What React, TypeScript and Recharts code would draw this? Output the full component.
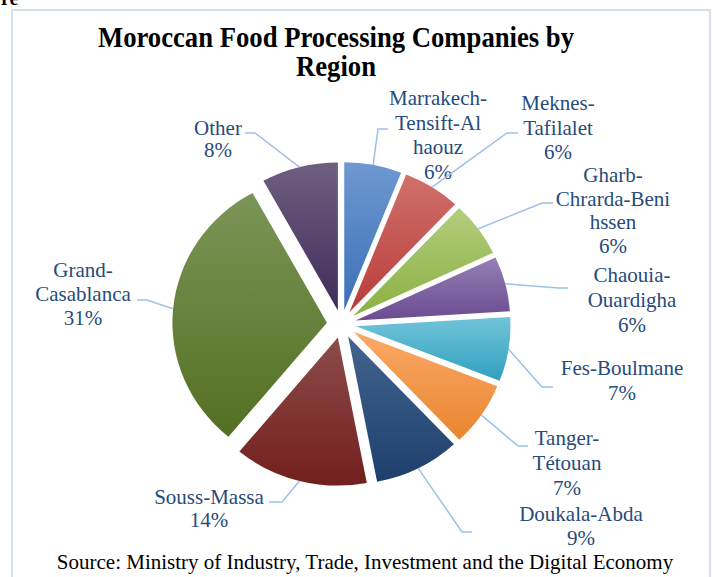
import React from 'react'
import { PieChart, Pie, Cell, Sector } from 'recharts'

// shares of food processing companies by region (%)
const REGIONS = [
  'Marrakech-Tensift-Al haouz',
  'Meknes-Tafilalet',
  'Gharb-Chrarda-Beni hssen',
  'Chaouia-Ouardigha',
  'Fes-Boulmane',
  'Tanger-Tétouan',
  'Doukala-Abda',
  'Souss-Massa',
  'Grand-Casablanca',
  'Other',
]
const SHARES = [6, 6, 6, 6, 7, 7, 9, 14, 31, 8]

// how Excel wrapped each label
const LABEL_LINES = [
  ['Marrakech-', 'Tensift-Al', 'haouz'],
  ['Meknes-', 'Tafilalet'],
  ['Gharb-', 'Chrarda-Beni', 'hssen'],
  ['Chaouia-', 'Ouardigha'],
  ['Fes-Boulmane'],
  ['Tanger-', 'Tétouan'],
  ['Doukala-Abda'],
  ['Souss-Massa'],
  ['Grand-', 'Casablanca'],
  ['Other'],
]

// gradient stops, top -> bottom
const TOP_COLORS = ['#6f98d0', '#d0706c', '#b3cd7f', '#9580b5', '#72c4d9', '#fca967', '#42648f', '#8c4c4a', '#7b9558', '#6e5f80']
const BOTTOM_COLORS = ['#3b70b7', '#b93c38', '#8bb041', '#6a4b91', '#30a0bf', '#e9852f', '#1e3f6b', '#731f1d', '#536f21', '#3f2c5a']

// label layout: [text center x, first baseline y, line gap, elbow x, elbow y, end x]
const LABEL_POS = [
  [438, 105, 24.5, 378, 129, 388],
  [558, 110, 24.5, 507, 133, 518],
  [613, 182, 23.5, 542, 203, 553],
  [632, 282, 25, 558, 288, 568],
  [622, 375, 25, 542, 387, 553],
  [567, 445, 25, 518, 446, 528],
  [581, 521, 24, 462, 532, 472],
  [209, 504, 23, 282, 502, 269],
  [83, 277, 24, 147, 300, 137],
  [218, 135, 22, 255, 133, 245],
]

const data = REGIONS.map((name, i) => ({ name, value: SHARES[i] }))

const EXPLODE = 14
const X_STRETCH = 1.044
const RAD = Math.PI / 180
const SERIF = '"Liberation Serif", "Times New Roman", serif'
const LABEL_COLOR = '#274b7c'
const LEADER_COLOR = '#9dc0e8'

function sliceIndex(props: any) {
  if (typeof props.index === 'number') return props.index
  const name = props.name ?? props.payload?.name
  return REGIONS.indexOf(name)
}

function renderSlice(props: any) {
  const { cx, cy, innerRadius, outerRadius, startAngle, endAngle } = props
  const i = sliceIndex(props)
  const mid = (startAngle + endAngle) / 2
  const dx = EXPLODE * Math.cos(-mid * RAD) * X_STRETCH
  const dy = EXPLODE * Math.sin(-mid * RAD)
  const id = `slice-grad-${i}`
  return (
    <g transform={`translate(${cx + dx} ${cy + dy}) scale(${X_STRETCH} 1) translate(${-cx} ${-cy})`}>
      <defs>
        <linearGradient id={id} x1="0" y1="0" x2="0" y2="1">
          <stop offset="0%" stopColor={TOP_COLORS[i]} />
          <stop offset="100%" stopColor={BOTTOM_COLORS[i]} />
        </linearGradient>
      </defs>
      <Sector
        cx={cx}
        cy={cy}
        innerRadius={innerRadius}
        outerRadius={outerRadius}
        startAngle={startAngle}
        endAngle={endAngle}
        fill={`url(#${id})`}
        stroke="none"
      />
    </g>
  )
}

function renderLabel(props: any) {
  const { cx, cy, midAngle, outerRadius } = props
  const i = sliceIndex(props)
  const [tx, ty, gap, ex, ey, endX] = LABEL_POS[i]
  const r = outerRadius + EXPLODE
  const sx = cx + X_STRETCH * r * Math.cos(-midAngle * RAD)
  const sy = cy + r * Math.sin(-midAngle * RAD)
  const lines = [...LABEL_LINES[i], `${SHARES[i]}%`]
  return (
    <g key={`lbl-${i}`}>
      <polyline points={`${sx},${sy} ${ex},${ey} ${endX},${ey}`} fill="none" stroke={LEADER_COLOR} strokeWidth={1.5} />
      {lines.map((t, k) => (
        <text key={k} x={tx} y={ty + k * gap} textAnchor="middle" fontFamily={SERIF} fontSize={21} fill={LABEL_COLOR}>
          {t}
        </text>
      ))}
    </g>
  )
}

export default function App() {
  return (
    <div style={{ position: 'absolute', left: 0, top: 0, width: 712, height: 577, background: '#fff' }}>
      <svg width={712} height={577} style={{ position: 'absolute', left: 0, top: 0 }}>
        <text x={1} y={5} fontFamily={SERIF} fontSize={20} fontWeight="bold" fill="#000">re</text>
        <rect x={12} y={10} width={698} height={600} fill="none" stroke="#d6e0ec" strokeWidth={2} />
        <text x={336} y={47} textAnchor="middle" fontFamily={SERIF} fontSize={29} fontWeight="bold" fill="#000"
          textLength={476} lengthAdjust="spacingAndGlyphs">
          Moroccan Food Processing Companies by
        </text>
        <text x={336} y={76} textAnchor="middle" fontFamily={SERIF} fontSize={29} fontWeight="bold" fill="#000"
          textLength={80} lengthAdjust="spacingAndGlyphs">
          Region
        </text>
        <text x={365} y={569} textAnchor="middle" fontFamily={SERIF} fontSize={21} fill="#000">
          Source: Ministry of Industry, Trade, Investment and the Digital Economy
        </text>
      </svg>
      <div style={{ position: 'absolute', left: 0, top: 0 }}>
        <PieChart width={712} height={577} margin={{ top: 0, right: 0, bottom: 0, left: 0 }}>
          <Pie
            data={data}
            dataKey="value"
            nameKey="name"
            cx={341.5}
            cy={324}
            innerRadius={0}
            outerRadius={148}
            startAngle={90}
            endAngle={-270}
            stroke="none"
            shape={renderSlice}
            label={renderLabel}
            labelLine={false}
            isAnimationActive={false}
          >
            {data.map((d, i) => (
              <Cell key={d.name} fill={BOTTOM_COLORS[i]} />
            ))}
          </Pie>
        </PieChart>
      </div>
    </div>
  )
}
